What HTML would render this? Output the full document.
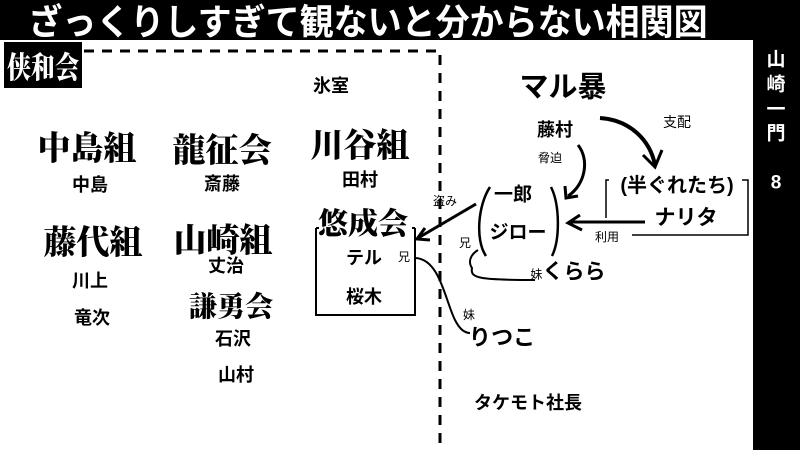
<!DOCTYPE html>
<html><head><meta charset="utf-8"><style>
body{margin:0;width:800px;height:450px;background:#fff;position:relative;overflow:hidden;font-family:"Liberation Sans","Noto Sans CJK JP",sans-serif}
.t{position:absolute;white-space:nowrap;transform:translate(-50%,-50%);font-weight:bold;color:#000;line-height:1}
.g{font-family:"Noto Serif CJK JP","Noto Serif CJK SC",serif;font-weight:900;font-size:33px}
.n{font-size:18px}
.s{font-size:12px;font-weight:normal}
</style></head><body>
<div style="position:absolute;left:0;top:0;width:800px;height:40px;background:#000"></div>
<div style="position:absolute;left:753px;top:0;width:47px;height:450px;background:#000"></div>
<div class="t" style="left:368px;top:20px;color:#fff;font-size:34px;font-family:'Noto Sans CJK JP',sans-serif;font-weight:bold;transform:translate(-50%,-50%) scaleY(1.05)">ざっくりしすぎて観ないと分からない相関図</div>
<div style="position:absolute;left:4px;top:42px;width:78px;height:46px;background:#000"></div>
<div class="t g" style="left:43px;top:65px;color:#fff;font-size:30px;transform:translate(-50%,-50%) scaleX(0.8)">侠和会</div>
<div class="t" style="left:776px;top:60px;color:#fff;font-size:19px">山</div>
<div class="t" style="left:776px;top:85px;color:#fff;font-size:19px">崎</div>
<div class="t" style="left:776px;top:110px;color:#fff;font-size:19px">一</div>
<div class="t" style="left:776px;top:134px;color:#fff;font-size:19px">門</div>
<div class="t" style="left:776px;top:183px;color:#fff;font-size:19px">8</div>
<svg width="800" height="450" style="position:absolute;left:0;top:0" fill="none" stroke="#000">
<path d="M84 51H440V450" stroke-width="3" stroke-dasharray="10,8"/>
<path d="M316 233V228 M316 228V315H415V228" stroke-width="2"/>
<path d="M316 228h3 M412 228h3" stroke-width="2"/>
<path d="M606 218V180h3 M742 180h6V235H632" stroke-width="1.5"/>
<path d="M600 118C630 120 650 140 655 165" stroke-width="4"/>
<path d="M643 155L655 167L662 150" stroke-width="3"/>
<path d="M578 145C590 160 585 185 568 196" stroke-width="3"/>
<path d="M565 186L566 198L578 196" stroke-width="3"/>
<path d="M645 222H570" stroke-width="3"/>
<path d="M580 215L568 223L582 230" stroke-width="3"/>
<path d="M476 204L418 238" stroke-width="3"/>
<path d="M425 228L417 239L430 240" stroke-width="3"/>
<path d="M490 187C478 205 475 240 486 256" stroke-width="2.5"/>
<path d="M551 187C560 205 560 240 552 256" stroke-width="2.5"/>
<path d="M478 250C470 255 468 262 472 268C470 278 478 280 535 280" stroke-width="2"/>
<path d="M416 258C440 260 445 300 455 320C460 330 465 333 470 333" stroke-width="2"/>
</svg>
<div class="t n" style="left:331px;top:86px">氷室</div>
<div class="t g" style="left:87px;top:146px">中島組</div>
<div class="t n" style="left:90px;top:185px">中島</div>
<div class="t g" style="left:222px;top:148px">龍征会</div>
<div class="t n" style="left:222px;top:184px">斎藤</div>
<div class="t g" style="left:360px;top:143px">川谷組</div>
<div class="t n" style="left:360px;top:180px">田村</div>
<div class="t g" style="left:93px;top:240px">藤代組</div>
<div class="t n" style="left:90px;top:281px">川上</div>
<div class="t n" style="left:92px;top:318px">竜次</div>
<div class="t g" style="left:223px;top:238px">山崎組</div>
<div class="t n" style="left:226px;top:266px">丈治</div>
<div class="t g" style="left:231px;top:305px;font-size:28px">謙勇会</div>
<div class="t n" style="left:233px;top:339px">石沢</div>
<div class="t n" style="left:236px;top:375px">山村</div>
<div class="t g" style="left:363px;top:221px;font-size:30px">悠成会</div>
<div class="t n" style="left:364px;top:258px">テル</div>
<div class="t n" style="left:364px;top:297px">桜木</div>
<div class="t s" style="left:404px;top:257px">兄</div>
<div class="t" style="left:563px;top:88px;font-size:29px">マル暴</div>
<div class="t n" style="left:555px;top:130px">藤村</div>
<div class="t s" style="left:677px;top:122px;font-size:14px">支配</div>
<div class="t s" style="left:550px;top:158px">脅迫</div>
<div class="t" style="left:677px;top:186px;font-size:20px">(半ぐれたち)</div>
<div class="t" style="left:686px;top:218px;font-size:21px">ナリタ</div>
<div class="t s" style="left:607px;top:237px">利用</div>
<div class="t" style="left:513px;top:195px;font-size:19px">一郎</div>
<div class="t" style="left:518px;top:233px;font-size:19px">ジロー</div>
<div class="t s" style="left:445px;top:201px">盗み</div>
<div class="t s" style="left:465px;top:243px">兄</div>
<div class="t" style="left:568px;top:272px;font-size:21px"><span style="font-size:12px;font-weight:normal">妹</span>くらら</div>
<div class="t s" style="left:469px;top:315px">妹</div>
<div class="t" style="left:502px;top:338px;font-size:22px">りつこ</div>
<div class="t n" style="left:528px;top:403px">タケモト社長</div>
</body></html>
